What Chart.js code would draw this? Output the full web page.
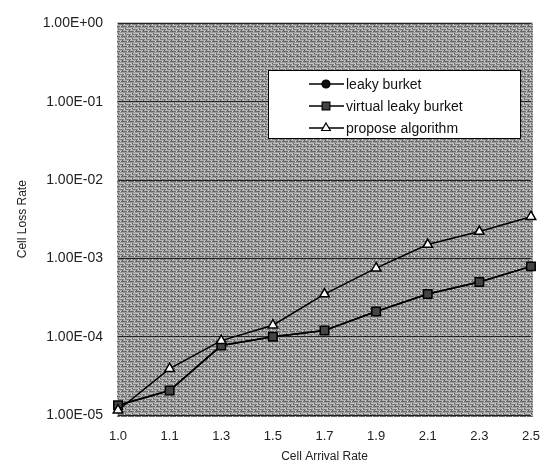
<!DOCTYPE html>
<html>
<head>
<meta charset="utf-8">
<script src="https://cdn.jsdelivr.net/npm/chart.js@4.4.1/dist/chart.umd.min.js"></script>
<style>
  html, body { margin: 0; padding: 0; background: #fff; }
  #wrap { width: 554px; height: 467px; }
</style>
</head>
<body>
<div id="wrap"><canvas id="myChart" width="554" height="467"></canvas></div>
<script>
const categories = ["1.0", "1.1", "1.3", "1.5", "1.7", "1.9", "2.1", "2.3", "2.5"];
const leakyBurket = [1.33e-5, 2.05e-5, 7.7e-5, 1.0e-4, 1.2e-4, 2.1e-4, 3.5e-4, 5.0e-4, 7.9e-4];
const virtualLeakyBurket = [1.33e-5, 2.05e-5, 7.7e-5, 1.0e-4, 1.2e-4, 2.1e-4, 3.5e-4, 5.0e-4, 7.9e-4];
const proposeAlgorithm = [1.15e-5, 3.9e-5, 8.9e-5, 1.4e-4, 3.5e-4, 7.5e-4, 1.5e-3, 2.2e-3, 3.4e-3];
const yTickValues = [1e-5, 1e-4, 1e-3, 1e-2, 1e-1, 1];
const yTickLabels = ["1.00E-05", "1.00E-04", "1.00E-03", "1.00E-02", "1.00E-01", "1.00E+00"];

const FONT = "'Liberation Sans', Arial, sans-serif";

// striped gray fill, like the scanned plot background
const makePattern = () => {
  const c = document.createElement("canvas");
  c.width = 7;
  c.height = 5;
  const g = c.getContext("2d");
  const rows = ["#b2b2b2", "#6a6a6a", "#9c9c9c", "#c0c0c0", "#7c7c7c"];
  rows.forEach((col, i) => {
    g.fillStyle = col;
    g.fillRect(0, i, 7, 1);
  });
  g.fillStyle = "#d4d4d4";
  g.fillRect(1, 1, 1, 1);
  g.fillRect(5, 4, 1, 1);
  g.fillStyle = "#5a5a5a";
  g.fillRect(3, 0, 1, 1);
  g.fillRect(6, 3, 1, 1);
  return g.createPattern(c, "repeat");
};

const plotBackground = {
  id: "plotBackground",
  beforeDraw(chart) {
    const { ctx, chartArea: a } = chart;
    ctx.save();
    ctx.fillStyle = makePattern();
    ctx.fillRect(a.left - 1, a.top - 1, a.right - a.left + 3, a.bottom - a.top + 3);
    ctx.restore();
  },
};

const boxLegend = {
  id: "boxLegend",
  afterDatasetsDraw(chart) {
    const { ctx } = chart;
    const x = 268, y = 70, w = 252, h = 68;
    ctx.save();
    ctx.fillStyle = "#fff";
    ctx.fillRect(x, y, w, h);
    ctx.strokeStyle = "#000";
    ctx.lineWidth = 1;
    ctx.strokeRect(x + 0.5, y + 0.5, w, h);
    ctx.font = "14px " + FONT;
    ctx.textBaseline = "middle";
    chart.data.datasets.forEach((ds, i) => {
      const ly = 84 + i * 22;
      ctx.strokeStyle = "#000";
      ctx.lineWidth = 1.5;
      ctx.beginPath();
      ctx.moveTo(309, ly);
      ctx.lineTo(344, ly);
      ctx.stroke();
      ctx.fillStyle = ds.pointBackgroundColor;
      ctx.strokeStyle = "#000";
      ctx.lineWidth = 1.2;
      Chart.helpers.drawPoint(ctx, { pointStyle: ds.pointStyle, radius: ds.legendRadius, rotation: 0, borderWidth: 1.2 }, 326, ly);
      ctx.fillStyle = "#111";
      ctx.fillText(ds.label, 346, ly + 1);
    });
    ctx.restore();
  },
};

const ctx = document.getElementById("myChart").getContext("2d");

new Chart(ctx, {
  type: "line",
  data: {
    labels: categories,
    datasets: [
      {
        label: "leaky burket",
        data: leakyBurket,
        borderColor: "#000",
        borderWidth: 1.5,
        pointStyle: "circle",
        pointRadius: 3,
        legendRadius: 4,
        pointBackgroundColor: "#111",
        pointBorderColor: "#000",
        order: 3,
      },
      {
        label: "virtual leaky burket",
        data: virtualLeakyBurket,
        borderColor: "#000",
        borderWidth: 1.5,
        pointStyle: "rect",
        pointRadius: 6,
        legendRadius: 5.5,
        pointBackgroundColor: "#444",
        pointBorderColor: "#000",
        order: 2,
      },
      {
        label: "propose algorithm",
        data: proposeAlgorithm,
        borderColor: "#000",
        borderWidth: 1.5,
        pointStyle: "triangle",
        pointRadius: 5.5,
        legendRadius: 5,
        pointBackgroundColor: "#fff",
        pointBorderColor: "#000",
        pointBorderWidth: 1.5,
        order: 1,
      },
    ],
  },
  options: {
    responsive: false,
    animation: false,
    layout: { padding: { top: 14, right: 21, left: 0, bottom: 0 } },
    plugins: {
      legend: { display: false },
      tooltip: { enabled: false },
    },
    scales: {
      x: {
        type: "category",
        offset: false,
        grid: { display: false, drawTicks: false },
        border: { display: false },
        ticks: {
          color: "#222",
          padding: 14,
          maxRotation: 0,
          font: { size: 13, family: FONT },
        },
        title: {
          display: true,
          text: "Cell Arrival Rate",
          color: "#222",
          padding: { top: 0, bottom: 3 },
          font: { size: 12, family: FONT },
        },
        afterFit: (scale) => { scale.height = 52; },
      },
      y: {
        type: "logarithmic",
        min: 1e-5,
        max: 1,
        afterBuildTicks: (scale) => {
          scale.ticks = yTickValues.map((v) => ({ value: v }));
        },
        afterFit: (scale) => { scale.width = 118; },
        grid: { color: "#222", lineWidth: 1, drawTicks: false },
        border: { display: false },
        ticks: {
          color: "#222",
          padding: 15,
          font: { size: 14, family: FONT },
          callback: (value, index) => yTickLabels[index],
        },
        title: {
          display: true,
          text: "Cell Loss Rate",
          color: "#222",
          padding: 15,
          font: { size: 12, family: FONT },
        },
      },
    },
  },
  plugins: [plotBackground, boxLegend],
});
</script>
</body>
</html>
